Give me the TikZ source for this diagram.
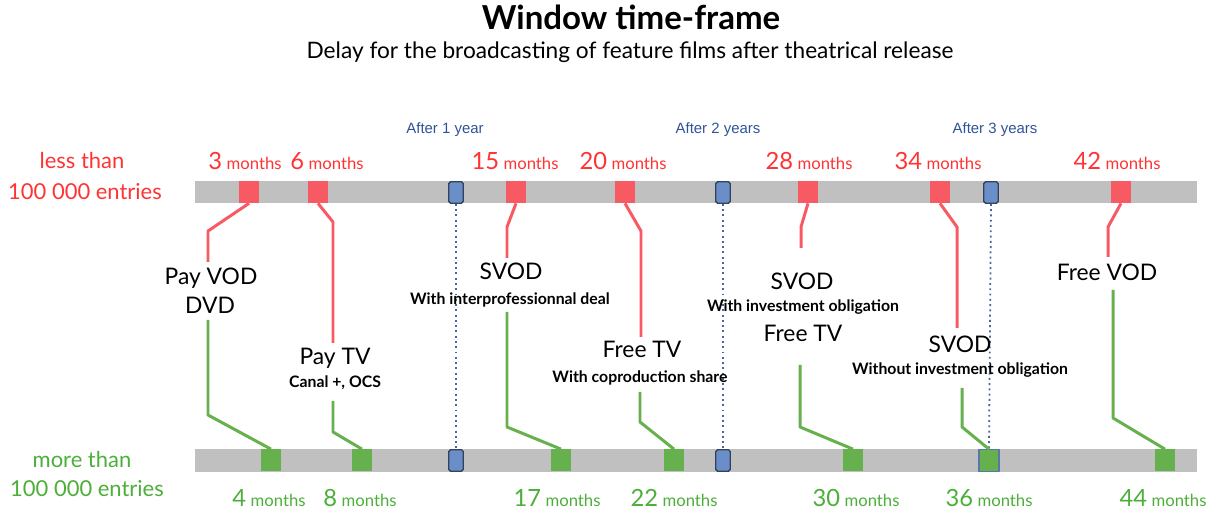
\documentclass[tikz,border=0pt]{standalone}
\usepackage{fontspec}
\setmainfont{Lato}
\newfontfamily\helv{Liberation Sans}
\definecolor{redbar}{HTML}{F85A63}
\definecolor{redtxt}{HTML}{FF3333}
\definecolor{greenbar}{HTML}{67B04E}
\definecolor{greentxt}{HTML}{4CAF3A}
\definecolor{yearfill}{HTML}{6A8FC8}
\definecolor{yeardark}{HTML}{33425A}
\definecolor{yeardot}{HTML}{4467A0}
\definecolor{yeartxt}{HTML}{2F5496}
\definecolor{bargrey}{HTML}{C0C0C0}
\begin{document}
\begin{tikzpicture}[x=0.02cm,y=-0.02cm,line join=round]
	\tikzset{redbox/.style={fill=redbar,minimum width=0.4cm,minimum height=0.44cm,inner sep=0pt},
		greenbox/.style={fill=greenbar,minimum width=0.4cm,minimum height=0.44cm,inner sep=0pt},
		yearbox/.style={fill=yearfill,draw=yeardark,line width=0.8pt,rounded corners=1pt,minimum width=0.29cm,minimum height=0.43cm,inner sep=0pt},
		redline/.style={draw=redbar,line width=1.7pt},
		greenline/.style={draw=greenbar,line width=1.7pt},
		yearline/.style={draw=yeardot,line width=1pt,dash pattern=on 1.1pt off 1.9pt},
		biglab/.style={anchor=base,font=\fontsize{13}{15}\selectfont},
		smalllab/.style={anchor=base,font=\bfseries\fontsize{9}{11}\selectfont}}
	\useasboundingbox (0,0) rectangle (1221,516);
	\node[anchor=base,font=\bfseries\fontsize{18.8}{22}\selectfont] (title) at (631,30) {Window time-frame};
	\node[anchor=base,font=\fontsize{12.9}{15}\selectfont] (subtitle) at (630,59) {Delay for the broadcasting of feature films after theatrical release};
	\node[anchor=base,text=redtxt,font=\fontsize{12.5}{15}\selectfont] (less) at (82,169) {less than};
	\node[anchor=base,text=redtxt,font=\fontsize{12.5}{15}\selectfont] (lessn) at (85,200) {100 000 entries};
	\node[anchor=base,text=greentxt,font=\fontsize{12.5}{15}\selectfont] (more) at (82,468) {more than};
	\node[anchor=base,text=greentxt,font=\fontsize{12.5}{15}\selectfont] (moren) at (87,497) {100 000 entries};
	\fill[bargrey] (195,181) rectangle (1197,203);
	\fill[bargrey] (195,449) rectangle (1197,472);
	\foreach \n/\x/\lx/\lab in {1/456/445/After 1 year, 2/723/718/After 2 years, 3/991/995/After 3 years} {
		\node[yearbox] (y\n) at (\x,192.5) {};
		\node[anchor=base,text=yeartxt,font=\helv\fontsize{8.5}{10}\selectfont] (ly\n) at (\lx,134) {\lab};
	}
	\foreach \n in {1,2}
	\node[yearbox] (yb\n) at (y\n |- 0,460.5) {};
	\foreach \n/\x/\lx in {3/249/245, 6/318/327, 15/516/515, 20/625/623, 28/808/809, 34/940/938, 42/1121/1117} {
		\node[redbox] (r\n) at (\x,192) {};
		\node[anchor=base,text=redtxt] (lr\n) at (\lx,170) {{\fontsize{13.5}{15}\selectfont\n} {\fontsize{9.5}{11}\selectfont months}};
	}
	\foreach \n/\x/\lx in {4/271/269, 8/362/360, 17/561/557, 22/674/674, 30/853/856, 36/989/989, 44/1165/1163} {
		\node[greenbox] (g\n) at (\x,460.5) {};
		\node[anchor=base,text=greentxt] (lg\n) at (\lx,507) {{\fontsize{13.5}{15}\selectfont\n} {\fontsize{9.5}{11}\selectfont months}};
	}
	\node[greenbox,draw=yeartxt!80,line width=0.6pt] at (g36) {};
	\draw[yearline] (y1.south) -- (yb1.north);
	\draw[yearline] (y2.south) -- (yb2.north);
	\draw[yearline] (y3.south) -- (g36.north);
	% media labels
	\node[biglab] (payvod) at (211,285) {Pay VOD};
	\node[biglab] (dvd) at (210,314) {DVD};
	\node[biglab] (paytv) at (335,365) {Pay TV};
	\node[smalllab] (canal) at (335,388) {Canal +, OCS};
	\node[biglab] (svoda) at (511,280) {SVOD};
	\node[smalllab] (interpro) at (510,305) {With interprofessionnal deal};
	\node[biglab] (freetva) at (642,358) {Free TV};
	\node[smalllab] (coprod) at (640,383) {With coproduction share};
	\node[biglab] (svodb) at (802,290) {SVOD};
	\node[smalllab] (invest) at (803,312) {With investment obligation};
	\node[biglab] (freetvb) at (803,342) {Free TV};
	\node[biglab] (svodc) at (960,353) {SVOD};
	\node[smalllab] (noinvest) at (960,375) {Without investment obligation};
	\node[biglab] (freevod) at (1107,281) {Free VOD};
	% connectors
	\coordinate (e3) at (208,262);
	\coordinate (e6) at (333,343);
	\coordinate (e15) at (507,258);
	\coordinate (e20) at (641,337);
	\coordinate (e28) at (801,248);
	\coordinate (e34) at (957,328);
	\coordinate (e42) at (1108,257);
	\draw[redline] (r3.south) -- (208,231) -- (e3);
	\draw[redline] (r6.south) -- (333,222) -- (e6);
	\draw[redline] (r15.south) -- (507,227) -- (e15);
	\draw[redline] (r20.south) -- (641,231) -- (e20);
	\draw[redline] (r28.south) -- (801,227) -- (e28);
	\draw[redline] (r34.south) -- (957,227) -- (e34);
	\draw[redline] (r42.south) -- (1108,227) -- (e42);
	\coordinate (s4) at (208,320);
	\coordinate (s8) at (333,401);
	\coordinate (s17) at (507,312);
	\coordinate (s22) at (640,392);
	\coordinate (s30) at (800,365);
	\coordinate (s36) at (962,388);
	\coordinate (s44) at (1113,290);
	\draw[greenline] (s4) -- (208,415) -- (g4.north);
	\draw[greenline] (s8) -- (333,432) -- (g8.north);
	\draw[greenline] (s17) -- (507,427) -- (g17.north);
	\draw[greenline] (s22) -- (640,422) -- (g22.north);
	\draw[greenline] (s30) -- (800,427) -- (g30.north);
	\draw[greenline] (s36) -- (962,427) -- (g36.north);
	\draw[greenline] (s44) -- (1113,418) -- (g44.north);
\end{tikzpicture}
\end{document}
